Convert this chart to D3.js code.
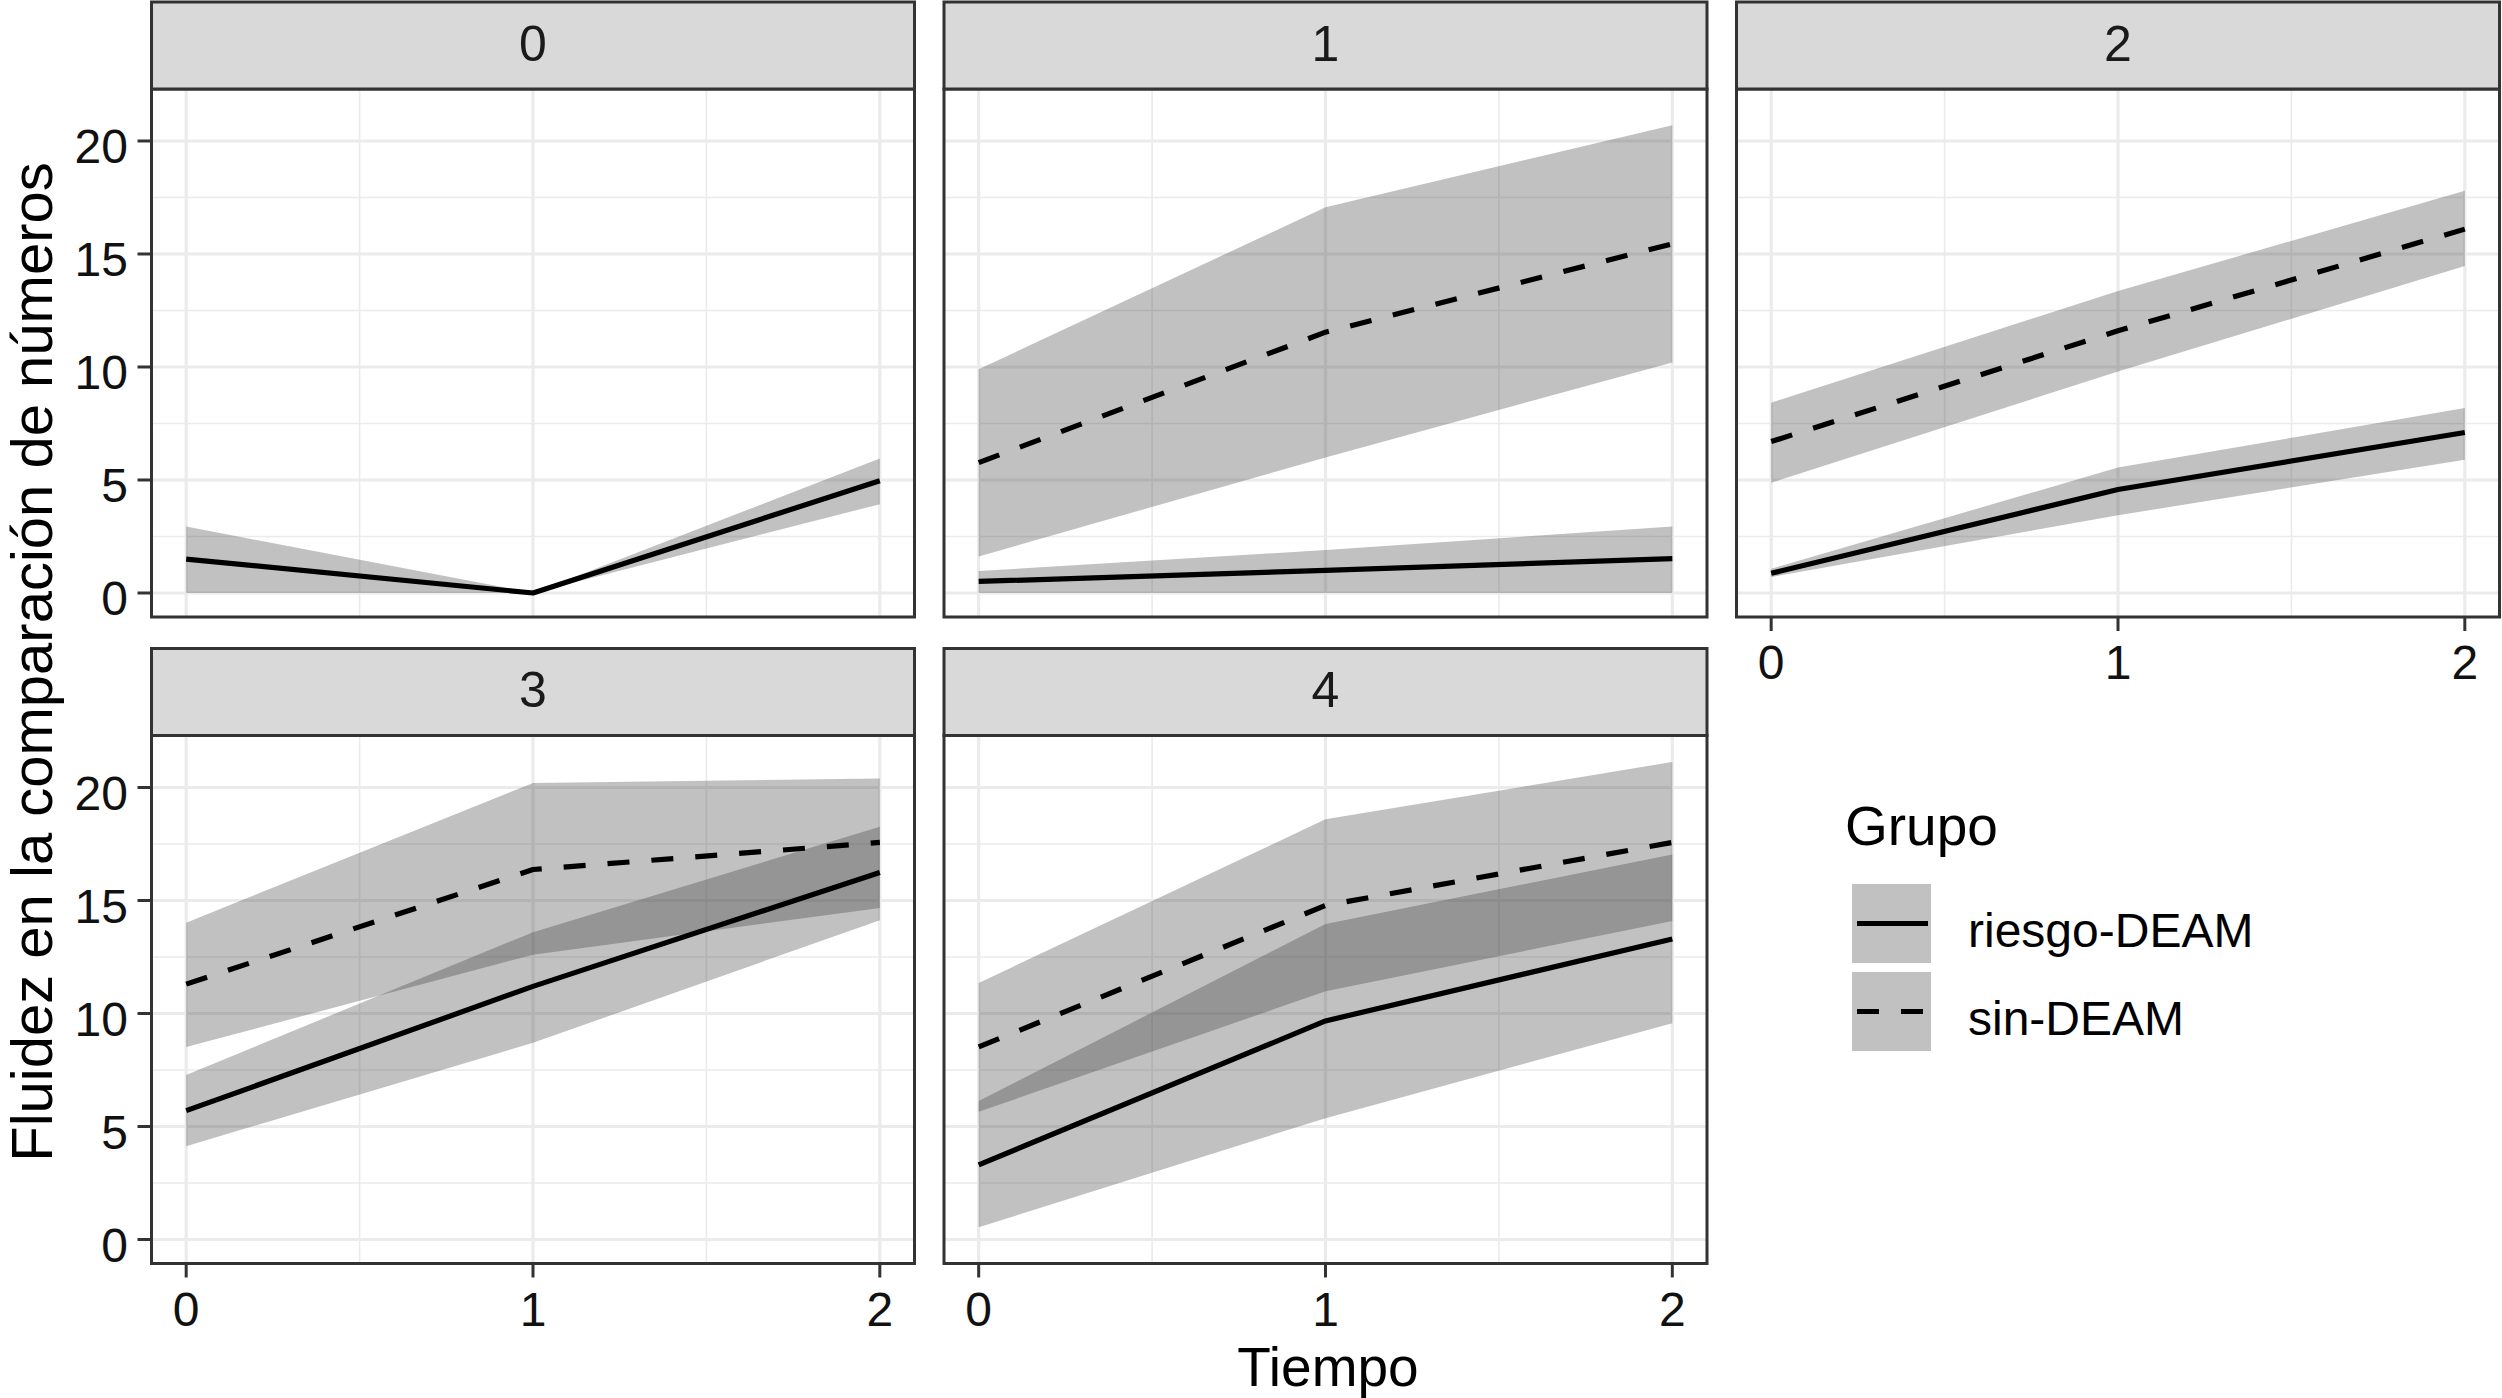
<!DOCTYPE html>
<html>
<head>
<meta charset="utf-8">
<script src="https://cdn.jsdelivr.net/npm/d3@7"></script>
<style>
  html, body { margin: 0; padding: 0; background: #fff; }
  svg { display: block; font-family: "Liberation Sans", Arial, Helvetica, sans-serif; }
</style>
</head>
<body>
<svg id="chart" width="2502" height="1398"></svg>
<script>
// ---------- data ----------
const times = [0, 1, 2];
const panels = ["0", "1", "2", "3", "4"];
const groups = ["riesgo-DEAM", "sin-DEAM"];
const xTicks = [0, 1, 2];
const yTicks = [0, 5, 10, 15, 20];
const xTitle = "Tiempo";
const yTitle = "Fluidez en la comparación de números";
const legendTitle = "Grupo";

// riesgo-DEAM (solid) : mean, lower, upper per panel, at times 0,1,2
const riesgoMean  = [[1.50, 0.00, 4.97], [0.51, 1.00, 1.52], [0.87, 4.58, 7.10], [5.70, 11.20, 16.24], [3.30, 9.67, 13.30]];
const riesgoLower = [[0.00, 0.00, 3.93], [0.00, 0.00, 0.00], [0.71, 3.44, 5.90], [4.13, 8.70, 14.13], [0.54, 5.37, 9.57]];
const riesgoUpper = [[2.94, 0.00, 5.95], [0.97, 1.90, 2.94], [1.07, 5.55, 8.18], [7.28, 13.60, 18.26], [6.13, 13.96, 17.04]];

// sin-DEAM (dashed) : panel 0 has no data
const sinMean  = [null, [5.77, 11.54, 15.45], [6.70, 11.60, 16.10], [11.30, 16.37, 17.57], [8.52, 14.78, 17.57]];
const sinLower = [null, [1.62, 6.00, 10.20], [4.88, 9.80, 14.47], [8.52, 12.60, 14.67], [5.65, 10.98, 14.09]];
const sinUpper = [null, [9.90, 17.07, 20.70], [8.42, 13.36, 17.80], [14.02, 20.20, 20.40], [11.35, 18.59, 21.13]];

// ---------- layout ----------
const colLeft = [151.5, 944, 1736.5];
const panelW = 763;
const rowStripTop = [2, 648.5];
const stripH = 87;
const panelH = 528;
const border = "#333333";
const ribbonFill = "rgba(51,51,51,0.3)";
const lineW = 5.2;

const svg = d3.select("#chart");
svg.append("rect").attr("width", 2502).attr("height", 1398).attr("fill", "#fff");

const series = [
  { name: groups[0], mean: riesgoMean, lower: riesgoLower, upper: riesgoUpper, dash: null },
  { name: groups[1], mean: sinMean, lower: sinLower, upper: sinUpper, dash: "22,22" }
];

panels.forEach((p, i) => {
  const col = i % 3, row = Math.floor(i / 3);
  const left = colLeft[col], right = left + panelW;
  const sTop = rowStripTop[row];
  const top = sTop + stripH, bottom = top + panelH;

  const x = d3.scaleLinear().domain([-0.1, 2.1]).range([left, right]);
  const y = d3.scaleLinear().domain([-1.062, 22.30]).range([bottom, top]);

  const g = svg.append("g");
  const clipId = "clip" + i;
  svg.append("clipPath").attr("id", clipId).append("rect")
    .attr("x", left).attr("y", top).attr("width", panelW).attr("height", panelH);

  const inner = g.append("g").attr("clip-path", `url(#${clipId})`);
  inner.append("rect").attr("x", left).attr("y", top).attr("width", panelW).attr("height", panelH).attr("fill", "#fff");

  // minor grid
  const xMinor = [0.5, 1.5], yMinor = [2.5, 7.5, 12.5, 17.5];
  inner.selectAll(".xm").data(xMinor).enter().append("line")
    .attr("x1", d => x(d)).attr("x2", d => x(d)).attr("y1", top).attr("y2", bottom)
    .attr("stroke", "#EBEBEB").attr("stroke-width", 1.6);
  inner.selectAll(".ym").data(yMinor).enter().append("line")
    .attr("y1", d => y(d)).attr("y2", d => y(d)).attr("x1", left).attr("x2", right)
    .attr("stroke", "#EBEBEB").attr("stroke-width", 1.6);
  // major grid
  inner.selectAll(".xM").data(xTicks).enter().append("line")
    .attr("x1", d => x(d)).attr("x2", d => x(d)).attr("y1", top).attr("y2", bottom)
    .attr("stroke", "#EBEBEB").attr("stroke-width", 3.2);
  inner.selectAll(".yM").data(yTicks).enter().append("line")
    .attr("y1", d => y(d)).attr("y2", d => y(d)).attr("x1", left).attr("x2", right)
    .attr("stroke", "#EBEBEB").attr("stroke-width", 3.2);

  // ribbons
  series.forEach(s => {
    if (!s.mean[i]) return;
    const pts = times.map((t, k) => ({ t, lo: s.lower[i][k], hi: s.upper[i][k] }));
    const area = d3.area().x(d => x(d.t)).y0(d => y(d.lo)).y1(d => y(d.hi));
    inner.append("path").attr("d", area(pts)).attr("fill", ribbonFill);
  });
  // lines
  series.forEach(s => {
    if (!s.mean[i]) return;
    const pts = times.map((t, k) => ({ t, v: s.mean[i][k] }));
    const line = d3.line().x(d => x(d.t)).y(d => y(d.v));
    const path = inner.append("path").attr("d", line(pts)).attr("fill", "none")
      .attr("stroke", "#000").attr("stroke-width", lineW).attr("stroke-linejoin", "round");
    if (s.dash) path.attr("stroke-dasharray", s.dash);
  });

  // panel border
  g.append("rect").attr("x", left).attr("y", top).attr("width", panelW).attr("height", panelH)
    .attr("fill", "none").attr("stroke", border).attr("stroke-width", 3);

  // strip
  g.append("rect").attr("x", left).attr("y", sTop).attr("width", panelW).attr("height", stripH)
    .attr("fill", "#D9D9D9").attr("stroke", border).attr("stroke-width", 3);
  g.append("text").attr("x", left + panelW / 2).attr("y", sTop + stripH / 2 - 3).attr("dy", "0.36em")
    .attr("text-anchor", "middle").attr("font-size", 50).attr("fill", "#1A1A1A").text(p);

  // y axis on first column
  if (col === 0) {
    yTicks.forEach(v => {
      g.append("line").attr("x1", left - 14).attr("x2", left).attr("y1", y(v)).attr("y2", y(v))
        .attr("stroke", border).attr("stroke-width", 3);
      g.append("text").attr("x", left - 23.5).attr("y", y(v)).attr("dy", "0.46em")
        .attr("text-anchor", "end").attr("font-size", 48).attr("fill", "#111").text(v);
    });
  }
  // x axis on bottom-most panels
  if (row === 1 || i === 2) {
    xTicks.forEach(v => {
      g.append("line").attr("x1", x(v)).attr("x2", x(v)).attr("y1", bottom).attr("y2", bottom + 14)
        .attr("stroke", border).attr("stroke-width", 3);
      g.append("text").attr("x", x(v)).attr("y", bottom + 62)
        .attr("text-anchor", "middle").attr("font-size", 48).attr("fill", "#111").text(v);
    });
  }
});

// axis titles
svg.append("text").attr("x", 1328).attr("y", 1386).attr("text-anchor", "middle")
  .attr("font-size", 55).attr("fill", "#000").text(xTitle);
svg.append("text").attr("transform", "translate(52,662) rotate(-90)").attr("text-anchor", "middle")
  .attr("font-size", 58).attr("fill", "#000").text(yTitle);

// legend
const lg = svg.append("g");
lg.append("text").attr("x", 1845).attr("y", 845).attr("font-size", 55).attr("fill", "#000").text(legendTitle);
const keyY = [884, 972];
const keyX = 1852, keyS = 79;
const keyLine = d3.scaleLinear().domain([0, 1]).range([keyX + 5, keyX + keyS - 3]);
series.forEach((s, k) => {
  lg.append("rect").attr("x", keyX).attr("y", keyY[k]).attr("width", keyS).attr("height", keyS).attr("fill", ribbonFill);
  const l = lg.append("line").attr("x1", keyLine(0)).attr("x2", keyLine(1))
    .attr("y1", keyY[k] + keyS / 2).attr("y2", keyY[k] + keyS / 2)
    .attr("stroke", "#000").attr("stroke-width", lineW);
  if (s.dash) l.attr("stroke-dasharray", s.dash);
  lg.append("text").attr("x", 1968).attr("y", keyY[k] + keyS / 2 + 23)
    .attr("font-size", 48).attr("fill", "#000").text(s.name);
});
</script>
</body>
</html>
